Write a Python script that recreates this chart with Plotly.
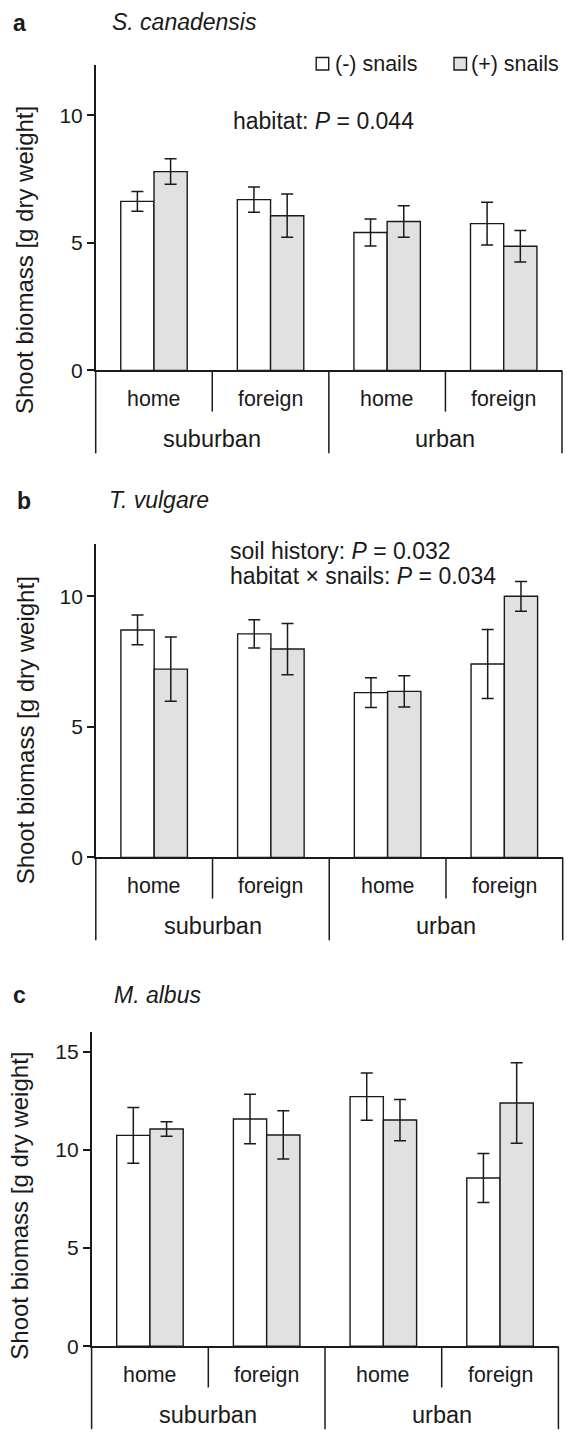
import plotly.graph_objects as go

# ---------------- data ----------------
habitat = ["suburban", "suburban", "urban", "urban"]
soil = ["home", "foreign", "home", "foreign"]
habitat_groups = ["suburban", "urban"]
series_names = ["(-) snails", "(+) snails"]

species = ["S. canadensis", "T. vulgare", "M. albus"]
panel_letters = ["a", "b", "c"]

a_minus = [6.63, 6.70, 5.41, 5.76]
a_minus_se = [0.39, 0.50, 0.53, 0.84]
a_plus = [7.80, 6.07, 5.84, 4.87]
a_plus_se = [0.50, 0.85, 0.62, 0.62]

b_minus = [8.71, 8.56, 6.31, 7.41]
b_minus_se = [0.57, 0.54, 0.57, 1.32]
b_plus = [7.21, 7.98, 6.36, 10.00]
b_plus_se = [1.23, 0.98, 0.60, 0.57]

c_minus = [10.74, 11.57, 12.71, 8.57]
c_minus_se = [1.42, 1.26, 1.20, 1.25]
c_plus = [11.06, 10.76, 11.52, 12.39]
c_plus_se = [0.37, 1.23, 1.05, 2.05]

y_max = [12, 12, 16]
y_ticks = [[0, 5, 10], [0, 5, 10], [0, 5, 10, 15]]

stats_text = [
    ["habitat: <i>P</i> = 0.044"],
    ["soil history: <i>P</i> = 0.032", "habitat \u00d7 snails: <i>P</i> = 0.034"],
    [],
]
y_title = "Shoot biomass [g dry weight]"

# ---------------- layout geometry (pixels) ----------------
W, H = 567, 1436
FONT = "Liberation Sans, Arial, Helvetica, sans-serif"
INK = "#1a1a1a"
GREY = "#e1e1e1"

panels = [
    dict(x0=95.7, x1=562.0, zero=373.3, top=65.0, letter=(19, 23), spec=(110, 22),
         stats=(231, [121.7]), ytitle=(25, 262)),
    dict(x0=95.8, x1=562.7, zero=864.0, top=548.3, letter=(24, 505), spec=(106.5, 504),
         stats=(228, [555, 580]), ytitle=(25, 736)),
    dict(x0=91.6, x1=558.4, zero=1356.7, top=1040.0, letter=(19, 1003), spec=(112, 1003),
         stats=(228, []), ytitle=(20, 1215)),
]
SOIL_DY, HAB_DY = 28.5, 69.5
SHORT_DY, LONG_DY = 41.5, 83.5

values = [
    (a_minus, a_minus_se, a_plus, a_plus_se),
    (b_minus, b_minus_se, b_plus, b_plus_se),
    (c_minus, c_minus_se, c_plus, c_plus_se),
]

def py(px):
    return 1 - px / H

def pxx(px):
    return px / W

fig = go.Figure()
xs = list(range(len(soil)))
shapes = []
annotations = []

for i, p in enumerate(panels):
    sfx = "" if i == 0 else str(i + 1)
    mn, mn_se, pl, pl_se = values[i]
    for name, vals, errs, fill in [(series_names[0], mn, mn_se, "white"),
                                   (series_names[1], pl, pl_se, GREY)]:
        fig.add_trace(go.Bar(
            x=xs, y=vals, name=name, showlegend=False,
            xaxis="x" + sfx, yaxis="y" + sfx,
            marker=dict(color=fill, line=dict(color=INK, width=1.4)),
            error_y=dict(type="data", array=errs, visible=True,
                         color=INK, thickness=1.5, width=6),
        ))

    fig.update_layout(**{
        "xaxis" + sfx: dict(
            domain=[pxx(p["x0"]), pxx(p["x1"])], range=[-0.5, len(soil) - 0.5],
            anchor="y" + sfx, showline=True, linecolor=INK, linewidth=1.5,
            showticklabels=False, ticks="", showgrid=False, zeroline=False,
            fixedrange=True),
        "yaxis" + sfx: dict(
            domain=[py(p["zero"]), py(p["top"])], range=[0, y_max[i]],
            anchor="x" + sfx, showline=True, linecolor=INK, linewidth=1.5,
            ticks="outside", ticklen=7, tickwidth=1.5, tickcolor=INK,
            tickvals=y_ticks[i], tickfont=dict(family=FONT, size=21, color=INK),
            showgrid=False, zeroline=False, fixedrange=True),
    })

    # category separators below the axis
    n = len(soil)
    for k in range(n + 1):
        frac = k / n
        is_group_edge = (k == 0 or k == n or habitat[k - 1] != habitat[min(k, n - 1)])
        dy = LONG_DY if is_group_edge else SHORT_DY
        shapes.append(dict(type="line", xref="x" + sfx + " domain", yref="paper",
                           x0=frac, x1=frac, y0=py(p["zero"]), y1=py(p["zero"] + dy),
                           line=dict(color=INK, width=1.5)))

    # soil history labels
    for k, lab in enumerate(soil):
        annotations.append(dict(text=lab, xref="x" + sfx, yref="paper", x=xs[k],
                                y=py(p["zero"] + SOIL_DY), showarrow=False,
                                xanchor="center", yanchor="middle",
                                font=dict(family=FONT, size=21.4, color=INK)))
    # habitat labels
    for g in habitat_groups:
        idx = [k for k, h in enumerate(habitat) if h == g]
        annotations.append(dict(text=g, xref="x" + sfx, yref="paper",
                                x=sum(idx) / len(idx), y=py(p["zero"] + HAB_DY),
                                showarrow=False, xanchor="center", yanchor="middle",
                                font=dict(family=FONT, size=23.5, color=INK)))

    # panel letter and species
    annotations.append(dict(text="<b>%s</b>" % panel_letters[i], xref="paper", yref="paper",
                            x=pxx(p["letter"][0]), y=py(p["letter"][1]), showarrow=False,
                            xanchor="center", yanchor="middle",
                            font=dict(family=FONT, size=23, color=INK)))
    annotations.append(dict(text="<i>%s</i>" % species[i], xref="paper", yref="paper",
                            x=pxx(p["spec"][0]), y=py(p["spec"][1]), showarrow=False,
                            xanchor="left", yanchor="middle",
                            font=dict(family=FONT, size=23, color=INK)))
    # statistics
    for t, yy in zip(stats_text[i], p["stats"][1]):
        annotations.append(dict(text=t, xref="paper", yref="paper",
                                x=pxx(p["stats"][0]), y=py(yy), showarrow=False,
                                xanchor="left", yanchor="middle",
                                font=dict(family=FONT, size=23, color=INK)))
    # y title
    annotations.append(dict(text=y_title, xref="paper", yref="paper",
                            x=pxx(p["ytitle"][0]), y=py(p["ytitle"][1]), textangle=-90,
                            showarrow=False, xanchor="center", yanchor="middle",
                            font=dict(family=FONT, size=24, color=INK)))

# custom legend (panel a, top right)
legend_items = [(316.2, 332.5, "white"), (454.0, 468.5, GREY)]
for (bx, tx, fill), name in zip(legend_items, series_names):
    shapes.append(dict(type="rect", xref="paper", yref="paper",
                       x0=pxx(bx), x1=pxx(bx + 12.5), y0=py(70.5), y1=py(58.0),
                       fillcolor=fill, line=dict(color=INK, width=1.4)))
    annotations.append(dict(text=name, xref="paper", yref="paper", x=pxx(tx), y=py(64),
                            showarrow=False, xanchor="left", yanchor="middle",
                            font=dict(family=FONT, size=21.5, color=INK)))

fig.update_layout(
    width=W, height=H, margin=dict(l=0, r=0, t=0, b=0),
    paper_bgcolor="white", plot_bgcolor="white",
    barmode="group", bargap=0.43, bargroupgap=0,
    shapes=shapes, annotations=annotations,
    font=dict(family=FONT, color=INK),
    showlegend=False,
)

fig.write_html(
    "out.html",
    config={"displayModeBar": False},
    post_script="document.body.style.margin='0';document.body.style.padding='0';",
)
